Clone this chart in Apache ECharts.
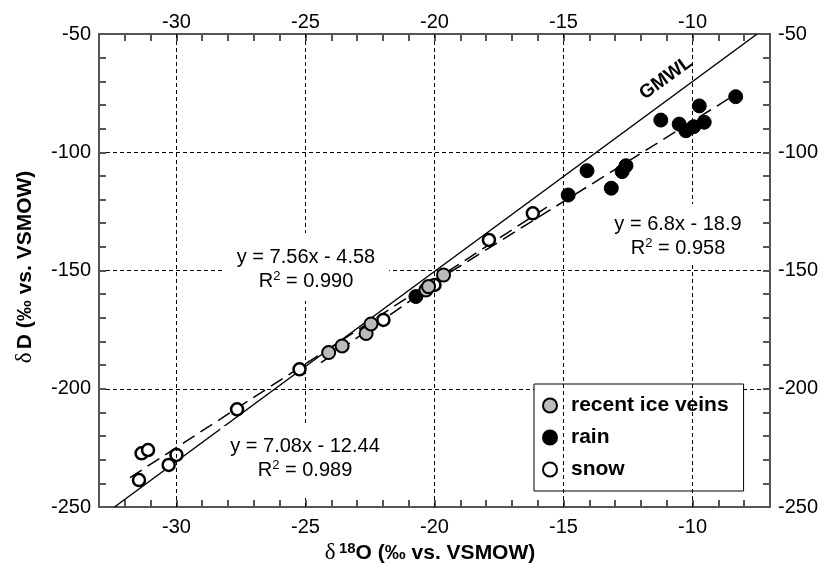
<!DOCTYPE html>
<html>
<head>
<meta charset="utf-8">
<script src="https://cdn.jsdelivr.net/npm/echarts@6/dist/echarts.min.js"></script>
<style>
  html, body { margin: 0; padding: 0; background: #fff; }
  #chart { width: 824px; height: 569px; }
</style>
</head>
<body>
<div id="chart"></div>
<script>
// d18O / dD values
const iceX = [-24.1, -23.58, -22.65, -22.46, -20.33, -20.23, -19.65];
const iceY = [-184.7, -181.9, -176.6, -172.6, -158.2, -156.8, -151.9];
const rainX = [-20.72, -14.82, -14.09, -13.15, -12.73, -12.58, -11.23, -10.52, -10.26, -9.96, -9.74, -9.55, -8.33];
const rainY = [-161.0, -118.1, -107.8, -115.2, -108.2, -105.7, -86.4, -88.1, -90.9, -89.2, -80.4, -87.3, -76.5];
const snowX = [-31.45, -31.35, -31.1, -30.3, -30.0, -27.65, -25.23, -21.98, -20.0, -17.89, -16.19];
const snowY = [-238.6, -227.3, -225.9, -232.2, -228.0, -208.7, -191.8, -170.9, -156.1, -137.1, -125.8];

// line end points
const gmwlLine = [[-32.4, -250], [-7.5, -50]];
const snowFit = [[-31.8, -237.6], [-15.5, -122.2]];
const iceFit = [[-24.4, -189.0], [-19.4, -151.2]];
const rainFit = [[-20.8, -160.3], [-8.3, -75.3]];

// axes
const xMin = -33, xMax = -7, yMin = -250, yMax = -50;
const xGrid = [-30, -25, -20, -15, -10];

const zip = (xs, ys) => xs.map((x, i) => [x, ys[i]]);

const font = '"Liberation Sans", Arial, sans-serif';
const axisCol = '#555';
const tick = { show: true, inside: true, length: 7, lineStyle: { color: axisCol, width: 2 } };

function xAx(pos) {
  return {
    type: 'value', position: pos, min: xMin, max: xMax, interval: 1,
    axisLine: { show: true, onZero: false, lineStyle: { color: axisCol, width: 2 } },
    axisTick: tick,
    axisLabel: {
      margin: pos === 'top' ? 2 : 10, color: '#000', fontSize: 20, fontFamily: font,
      formatter: v => (v % 5 === 0 ? String(v) : '')
    },
    splitLine: { show: false }
  };
}
function yAx(pos) {
  return {
    type: 'value', position: pos, min: yMin, max: yMax, interval: 50,
    axisLine: { show: true, onZero: false, lineStyle: { color: axisCol, width: 2 } },
    axisTick: tick,
    minorTick: { show: true, splitNumber: 5, length: 7, lineStyle: { color: axisCol, width: 2 } },
    axisLabel: { margin: 8, color: '#000', fontSize: 20, fontFamily: font },
    splitLine: { show: pos === 'left', lineStyle: { color: '#000', width: 1, type: [4, 3] } }
  };
}

const dash = { color: '#000', width: 1.5, type: [14, 7] };
const eqRich = { s: { fontSize: 13, padding: [0, 0, 9, 0], fontFamily: font } };

const chart = echarts.init(document.getElementById('chart'));
chart.setOption({
  animation: false,
  grid: { left: 99, right: 54, top: 34, bottom: 62 },
  xAxis: [xAx('bottom'), xAx('top')],
  yAxis: [yAx('left'), yAx('right')],
  legend: {
    data: ['recent ice veins', 'rain', 'snow'],
    orient: 'vertical', left: 534, top: 384,
    backgroundColor: '#fff', borderColor: '#000', borderWidth: 1, borderRadius: 0,
    padding: [11, 15, 11, 8], itemGap: 11, itemWidth: 14, itemHeight: 14, itemTextGap: 15,
    textStyle: { fontSize: 21, fontWeight: 'bold', fontFamily: font, color: '#000', padding: [0, 0, 0, 9] }
  },
  series: [
    {
      name: 'GMWL', type: 'line', data: gmwlLine, symbol: 'none', z: 1,
      lineStyle: { color: '#000', width: 1.5 },
      markLine: {
        silent: true, symbol: 'none', label: { show: false },
        lineStyle: { color: '#000', width: 1, type: [4, 3] },
        data: xGrid.map(v => ({ xAxis: v }))
      }
    },
    { name: 'snow fit', type: 'line', data: snowFit, symbol: 'none', z: 1, lineStyle: dash },
    { name: 'ice fit', type: 'line', data: iceFit, symbol: 'none', z: 1, lineStyle: dash },
    { name: 'rain fit', type: 'line', data: rainFit, symbol: 'none', z: 1, lineStyle: dash },
    {
      name: 'snow', type: 'scatter', data: zip(snowX, snowY), symbolSize: 12, z: 3,
      itemStyle: { color: '#fff', borderColor: '#000', borderWidth: 2.5, opacity: 1 }
    },
    {
      name: 'rain', type: 'scatter', data: zip(rainX, rainY), symbolSize: 14, z: 3,
      itemStyle: { color: '#000', borderColor: '#000', borderWidth: 1, opacity: 1 }
    },
    {
      name: 'recent ice veins', type: 'scatter', data: zip(iceX, iceY), symbolSize: 13, z: 3,
      itemStyle: { color: '#bbb', borderColor: '#000', borderWidth: 2, opacity: 1 }
    }
  ],
  graphic: [
    {
      type: 'text', x: 306, y: 267, z: 10,
      style: {
        text: 'y = 7.56x - 4.58\nR{s|2} = 0.990', align: 'center', verticalAlign: 'middle',
        font: '20px ' + font, fill: '#000', lineHeight: 24,
        backgroundColor: '#fff', padding: [12, 14, 8, 14], rich: eqRich
      }
    },
    {
      type: 'text', x: 305, y: 462, z: 10,
      style: {
        text: 'y = 7.08x - 12.44\nR{s|2} = 0.989', align: 'center', verticalAlign: 'middle',
        font: '20px ' + font, fill: '#000', lineHeight: 24,
        backgroundColor: '#fff', padding: [8, 10, 16, 10], rich: eqRich
      }
    },
    {
      type: 'text', x: 678, y: 234, z: 10,
      style: {
        text: 'y = 6.8x - 18.9\nR{s|2} = 0.958', align: 'center', verticalAlign: 'middle',
        font: '20px ' + font, fill: '#000', lineHeight: 24,
        backgroundColor: '#fff', padding: [8, 6, 4, 6], rich: eqRich
      }
    },
    {
      type: 'text', x: 666, y: 78, rotation: 36 * Math.PI / 180, z: 10,
      style: { text: 'GMWL', align: 'center', verticalAlign: 'middle', font: 'bold 19px ' + font, fill: '#000' }
    },
    {
      type: 'text', x: 430, y: 553, z: 10,
      style: {
        text: '{d|δ} {s|18}{b|O (‰ vs. VSMOW)}', align: 'center', verticalAlign: 'middle', fill: '#000',
        rich: {
          d: { fontSize: 23, fontFamily: '"Liberation Serif", serif' },
          s: { fontSize: 15, fontWeight: 'bold', fontFamily: font, padding: [0, 0, 8, 0] },
          b: { fontSize: 21, fontWeight: 'bold', fontFamily: font }
        }
      }
    },
    {
      type: 'text', x: 25, y: 267, rotation: Math.PI / 2, z: 10,
      style: {
        text: '{d|δ} {b|D (‰ vs. VSMOW)}', align: 'center', verticalAlign: 'middle', fill: '#000',
        rich: {
          d: { fontSize: 23, fontFamily: '"Liberation Serif", serif' },
          b: { fontSize: 21, fontWeight: 'bold', fontFamily: font }
        }
      }
    }
  ]
});
</script>
</body>
</html>
